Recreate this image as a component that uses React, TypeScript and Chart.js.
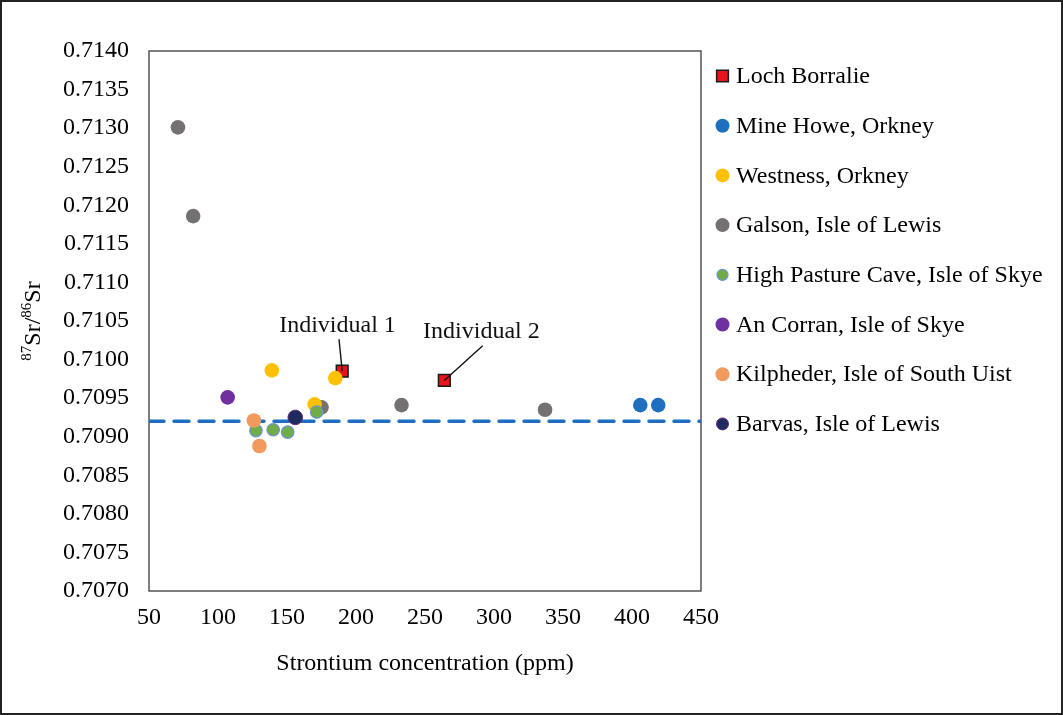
import React, { useEffect, useRef } from "react";
import { Chart, registerables } from "chart.js";

Chart.register(...registerables);

// ---- data ----
const xTickValues = [50, 100, 150, 200, 250, 300, 350, 400, 450];
const yTickValues = [
  0.707, 0.7075, 0.708, 0.7085, 0.709, 0.7095, 0.71, 0.7105, 0.711, 0.7115,
  0.712, 0.7125, 0.713, 0.7135, 0.714,
];

const lochBorralieX = [190, 264];
const lochBorralieY = [0.70985, 0.70973];
const mineHoweX = [406, 419];
const mineHoweY = [0.70941, 0.70941];
const westnessX = [139, 185, 170];
const westnessY = [0.70986, 0.70976, 0.70942];
const galsonX = [71, 82, 175, 233, 337];
const galsonY = [0.71301, 0.71186, 0.70938, 0.70941, 0.70935];
const highPastureX = [127.5, 140, 150.5, 171.5];
const highPastureY = [0.70908, 0.70909, 0.70906, 0.70932];
const anCorranX = [107];
const anCorranY = [0.70951];
const kilphederX = [126, 130];
const kilphederY = [0.70921, 0.70888];
const barvasX = [156];
const barvasY = [0.70925];

const baselineX = [50, 450];
const baselineValue = 0.7092;

const annotationLabels = ["Individual 1", "Individual 2"];
const annotationTextX = [186.6, 290.9];
const annotationTextY = [0.710357, 0.71028];
const annotationLineX = [187.7, 291.8];
const annotationLineY = [0.710263, 0.71018];

const seriesNames = [
  "Loch Borralie",
  "Mine Howe, Orkney",
  "Westness, Orkney",
  "Galson, Isle of Lewis",
  "High Pasture Cave, Isle of Skye",
  "An Corran, Isle of Skye",
  "Kilpheder, Isle of South Uist",
  "Barvas, Isle of Lewis",
];

const FONT = '"Liberation Serif", "Times New Roman", serif';

const zip = (xs: number[], ys: number[]) => xs.map((x, i) => ({ x, y: ys[i] }));

const frameAndBoxPlugin = {
  id: "frameAndBox",
  beforeDatasetsDraw(chart: any) {
    const { ctx, chartArea } = chart;
    ctx.save();
    ctx.strokeStyle = "#3a3a3a";
    ctx.lineWidth = 1.3;
    ctx.strokeRect(chartArea.left, chartArea.top, chartArea.right - chartArea.left, chartArea.bottom - chartArea.top);
    ctx.restore();
  },
  afterDraw(chart: any) {
    const { ctx, width, height } = chart;
    ctx.save();
    ctx.strokeStyle = "#222";
    ctx.lineWidth = 2;
    ctx.strokeRect(1, 1, width - 2, height - 2);
    ctx.restore();
  },
};

const annotationPlugin = {
  id: "annotations",
  afterDatasetsDraw(chart: any) {
    const { ctx, scales } = chart;
    const xs = scales.x;
    const ys = scales.y;
    ctx.save();
    ctx.strokeStyle = "#111";
    ctx.lineWidth = 1.4;
    annotationLabels.forEach((label, i) => {
      ctx.beginPath();
      ctx.moveTo(xs.getPixelForValue(annotationLineX[i]), ys.getPixelForValue(annotationLineY[i]));
      ctx.lineTo(xs.getPixelForValue(lochBorralieX[i]), ys.getPixelForValue(lochBorralieY[i]));
      ctx.stroke();
      ctx.fillStyle = "#111";
      ctx.font = `24px ${FONT}`;
      ctx.textAlign = "center";
      ctx.textBaseline = "alphabetic";
      ctx.fillText(label, xs.getPixelForValue(annotationTextX[i]), ys.getPixelForValue(annotationTextY[i]));
    });
    ctx.restore();
  },
};

const yTitlePlugin = {
  id: "yTitle",
  afterDraw(chart: any) {
    const { ctx, chartArea } = chart;
    const cy = (chartArea.top + chartArea.bottom) / 2;
    const cx = 32;
    ctx.save();
    ctx.translate(cx, cy);
    ctx.rotate(-Math.PI / 2);
    ctx.fillStyle = "#000";
    ctx.textBaseline = "alphabetic";
    ctx.textAlign = "left";
    const big = `24px ${FONT}`;
    const small = `15px ${FONT}`;
    const parts: [string, string, number][] = [
      ["87", small, -9],
      ["Sr/", big, 0],
      ["86", small, -9],
      ["Sr", big, 0],
    ];
    let total = 0;
    parts.forEach(([t, f]) => {
      ctx.font = f;
      total += ctx.measureText(t).width;
    });
    let x = -total / 2;
    const base = 8;
    parts.forEach(([t, f, dy]) => {
      ctx.font = f;
      ctx.fillText(t, x, base + dy);
      x += ctx.measureText(t).width;
    });
    ctx.restore();
  },
};

const legendPlugin = {
  id: "customLegend",
  afterDraw(chart: any) {
    const { ctx, chartArea } = chart;
    const datasets = chart.data.datasets.filter((d: any) => d.inLegend);
    const mx = chartArea.right + 21.5;
    const tx = chartArea.right + 35;
    ctx.save();
    datasets.forEach((d: any, i: number) => {
      const y = chartArea.top + 25 + i * 49.7;
      ctx.fillStyle = d.backgroundColor;
      ctx.strokeStyle = d.borderColor;
      ctx.lineWidth = d.borderWidth;
      if (d.pointStyle === "rect") {
        const s = d.pointRadius * Math.SQRT1_2;
        ctx.beginPath();
        ctx.rect(mx - s, y - s, 2 * s, 2 * s);
        ctx.fill();
        if (d.borderWidth) ctx.stroke();
      } else {
        const r = d.legendRadius || d.pointRadius;
        ctx.beginPath();
        ctx.arc(mx, y, r, 0, Math.PI * 2);
        ctx.fill();
        if (d.borderWidth) ctx.stroke();
      }
      ctx.fillStyle = "#000";
      ctx.font = `24px ${FONT}`;
      ctx.textAlign = "left";
      ctx.textBaseline = "middle";
      ctx.fillText(d.label, tx, y + 1);
    });
    ctx.restore();
  },
};

export default function App() {
  const ref = useRef<HTMLCanvasElement | null>(null);

  useEffect(() => {
    if (!ref.current) return;
    const pointDs = (
      label: string,
      xs: number[],
      ys: number[],
      color: string,
      order: number,
      extra: any = {}
    ) => ({
      type: "scatter",
      label,
      data: zip(xs, ys),
      backgroundColor: color,
      borderColor: color,
      borderWidth: 0,
      pointRadius: 7.3,
      pointHoverRadius: 7.3,
      pointStyle: "circle",
      order,
      inLegend: true,
      ...extra,
    });

    const chart = new Chart(ref.current, {
      type: "scatter",
      data: {
        datasets: [
          pointDs(seriesNames[0], lochBorralieX, lochBorralieY, "#E8141C", 9, {
            pointStyle: "rect",
            pointRadius: 8.3,
            pointHoverRadius: 8.3,
            borderColor: "#1a1a1a",
            borderWidth: 1.5,
          }),
          pointDs(seriesNames[1], mineHoweX, mineHoweY, "#1F6FC0", 6, { legendRadius: 7 }),
          pointDs(seriesNames[2], westnessX, westnessY, "#FFC000", 7, { legendRadius: 7 }),
          pointDs(seriesNames[3], galsonX, galsonY, "#767171", 8, { legendRadius: 7 }),
          pointDs(seriesNames[4], highPastureX, highPastureY, "#70AD47", 5, {
            pointRadius: 6.2,
            pointHoverRadius: 6.2,
            borderColor: "#6D95D0",
            borderWidth: 1.3,
            legendRadius: 5.5,
          }),
          pointDs(seriesNames[5], anCorranX, anCorranY, "#7030A0", 4, { legendRadius: 7 }),
          pointDs(seriesNames[6], kilphederX, kilphederY, "#F19A5E", 3, { legendRadius: 7 }),
          pointDs(seriesNames[7], barvasX, barvasY, "#1F2A5E", 2, {
            borderColor: "#5A2D82",
            borderWidth: 1,
            legendRadius: 6,
          }),
          {
            type: "line",
            label: "baseline",
            data: baselineX.map((x) => ({ x, y: baselineValue })),
            borderColor: "#1F6FC0",
            borderWidth: 3.5,
            borderDash: [15, 10],
            borderCapStyle: "round",
            pointRadius: 0,
            showLine: true,
            fill: false,
            order: 100,
            inLegend: false,
          },
        ] as any,
      },
      options: {
        animation: false,
        responsive: true,
        maintainAspectRatio: false,
        layout: { padding: { left: 0, right: 362, top: 51, bottom: 0 } },
        plugins: {
          legend: { display: false },
          tooltip: { enabled: false },
        },
        scales: {
          x: {
            type: "linear",
            min: 50,
            max: 450,
            afterBuildTicks: (s: any) => {
              s.ticks = xTickValues.map((v) => ({ value: v }));
            },
            afterFit: (s: any) => {
              s.height = 124;
            },
            grid: { display: false, drawTicks: false },
            border: { display: false },
            ticks: {
              padding: 12,
              color: "#000",
              font: { family: FONT, size: 24 },
              maxRotation: 0,
              autoSkip: false,
            },
            title: {
              display: true,
              text: "Strontium concentration (ppm)",
              color: "#000",
              font: { family: FONT, size: 24 },
              padding: { top: 0, bottom: 37 },
            },
          },
          y: {
            type: "linear",
            min: 0.707,
            max: 0.714,
            afterBuildTicks: (s: any) => {
              s.ticks = yTickValues.map((v) => ({ value: v }));
            },
            afterFit: (s: any) => {
              s.width = 149;
            },
            grid: { display: false, drawTicks: false },
            border: { display: false },
            ticks: {
              padding: 20,
              color: "#000",
              font: { family: FONT, size: 24 },
              autoSkip: false,
              callback: (v: any) => Number(v).toFixed(4),
            },
          },
        },
      } as any,
      plugins: [frameAndBoxPlugin, annotationPlugin, yTitlePlugin, legendPlugin],
    });
    return () => chart.destroy();
  }, []);

  return (
    <div
      style={{
        position: "fixed",
        left: 0,
        top: 0,
        width: 1063,
        height: 715,
        background: "#fff",
      }}
    >
      <canvas ref={ref} />
    </div>
  );
}
